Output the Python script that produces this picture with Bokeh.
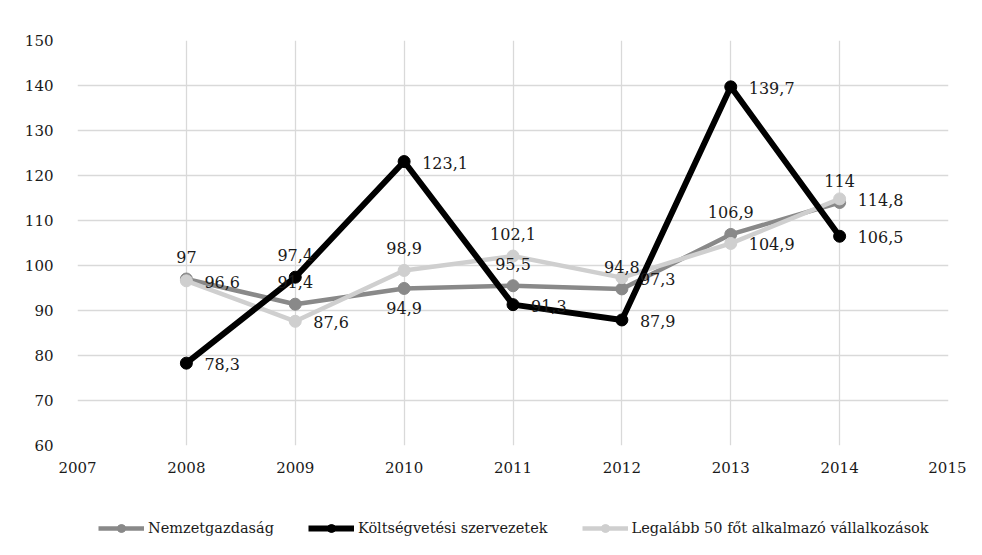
from bokeh.plotting import figure
from bokeh.layouts import column
from bokeh.models import ColumnDataSource, Legend, LegendItem, FixedTicker
from bokeh.core.properties import value
from bokeh.embed import file_html
from bokeh.resources import INLINE

years = [2008, 2009, 2010, 2011, 2012, 2013, 2014]
nemzet = [97, 91.4, 94.9, 95.5, 94.8, 106.9, 114]
koltseg = [78.3, 97.4, 123.1, 91.3, 87.9, 139.7, 106.5]
legalabb = [96.6, 87.6, 98.9, 102.1, 97.3, 104.9, 114.8]
names = ["Nemzetgazdaság", "Költségvetési szervezetek", "Legalább 50 főt alkalmazó vállalkozások"]
x_ticks = [2007, 2008, 2009, 2010, 2011, 2012, 2013, 2014, 2015]
y_ticks = [60, 70, 80, 90, 100, 110, 120, 130, 140, 150]

# label placement per point
pos_nemzet = ["above", "above", "below", "above", "above", "above", "above"]
pos_koltseg = ["right", "above", "right", "right", "right", "right", "right"]
pos_legalabb = ["right", "right", "above", "above", "right", "right", "right"]

FONT = "DejaVu Serif"

p = figure(width=966, height=480, output_backend="svg", toolbar_location=None,
           x_range=(2007, 2015), y_range=(60, 150),
           min_border_left=77, min_border_right=18, min_border_top=40, min_border_bottom=35)
p.outline_line_color = None
p.background_fill_color = "white"
p.border_fill_color = "white"

p.xaxis.ticker = FixedTicker(ticks=x_ticks)
p.yaxis.ticker = FixedTicker(ticks=y_ticks)
for ax in (p.xaxis, p.yaxis):
    ax.axis_line_color = None
    ax.major_tick_line_color = None
    ax.minor_tick_line_color = None
    ax.major_label_text_font = FONT
    ax.major_label_text_font_size = "15px"
    ax.major_label_text_color = "#1a1a1a"
p.yaxis.major_label_standoff = 18
p.xaxis.major_label_standoff = 10
p.xgrid.ticker = FixedTicker(ticks=x_ticks)
p.ygrid.ticker = FixedTicker(ticks=y_ticks)
p.grid.grid_line_color = "#d9d9d9"
p.grid.grid_line_width = 1.3

colors = ["#898989", "#000000", "#cfcfcf"]
widths = [4.5, 6, 4.5]
series = [nemzet, koltseg, legalabb]
positions = [pos_nemzet, pos_koltseg, pos_legalabb]

for i in [0, 2, 1]:
    src = ColumnDataSource(dict(x=years, y=series[i]))
    p.line("x", "y", source=src, line_color=colors[i], line_width=widths[i])
    p.scatter("x", "y", source=src, size=12, marker="circle",
              fill_color=colors[i], line_color=colors[i])

for i in range(3):
    xo, yo, al = [], [], []
    for pos in positions[i]:
        if pos == "above":
            xo.append(0); yo.append(-22); al.append("center")
        elif pos == "below":
            xo.append(0); yo.append(20); al.append("center")
        else:
            xo.append(18); yo.append(1); al.append("left")
    txt = [f"{v:g}".replace(".", ",") for v in series[i]]
    src = ColumnDataSource(dict(x=years, y=series[i], t=txt, xo=xo, yo=yo, al=al))
    p.text("x", "y", text="t", source=src, x_offset="xo", y_offset="yo",
           text_align="al", text_baseline="middle",
           text_font=value(FONT), text_font_size="16px", text_color="#1a1a1a")

# legend strip below the chart
lg = figure(width=966, height=72, output_backend="svg", toolbar_location=None,
            x_range=(0, 1), y_range=(0, 1),
            min_border_left=77, min_border_right=18, min_border_top=0, min_border_bottom=0)
lg.axis.visible = False
lg.grid.visible = False
lg.outline_line_color = None
items = []
for i in range(3):
    src = ColumnDataSource(dict(x=[-5], y=[-5]))
    l = lg.line("x", "y", source=src, line_color=colors[i], line_width=widths[i])
    s = lg.scatter("x", "y", source=src, size=9, marker="circle",
                   fill_color=colors[i], line_color=colors[i])
    items.append(LegendItem(label=names[i], renderers=[l, s]))
legend = Legend(items=items, orientation="horizontal", location=(21, 14),
                label_text_font=FONT, label_text_font_size="14.5px", label_text_color="#1a1a1a",
                glyph_width=46, glyph_height=20, label_height=20, label_standoff=4, spacing=34,
                padding=0, margin=0,
                border_line_color=None, background_fill_alpha=0)
lg.add_layout(legend)

open("out.html", "w").write(file_html(column(p, lg, spacing=0), INLINE))
